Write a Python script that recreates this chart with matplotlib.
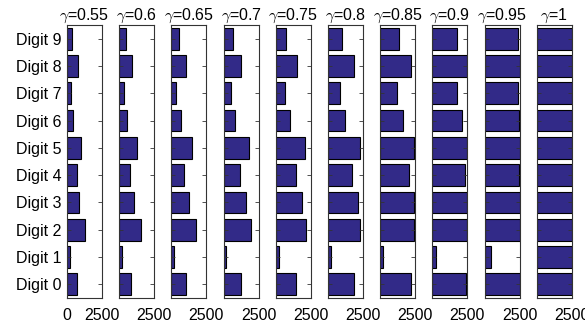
import matplotlib
matplotlib.use('Agg')
import matplotlib.pyplot as plt
import numpy as np

gammas = ['0.55', '0.6', '0.65', '0.7', '0.75', '0.8', '0.85', '0.9', '0.95', '1']
digits = ['Digit 0', 'Digit 1', 'Digit 2', 'Digit 3', 'Digit 4',
          'Digit 5', 'Digit 6', 'Digit 7', 'Digit 8', 'Digit 9']

# counts per digit (0..9) for each gamma
counts_055 = [714, 179, 1301, 842, 714, 1020, 459, 306, 765, 383]
counts_060 = [842, 230, 1556, 1046, 791, 1276, 561, 357, 893, 459]
counts_065 = [1046, 204, 1760, 1224, 918, 1505, 663, 357, 1046, 561]
counts_070 = [1276, 179, 1990, 1582, 1173, 1811, 816, 561, 1276, 663]
counts_075 = [1450, 200, 2175, 1875, 1425, 2050, 1000, 650, 1525, 750]
counts_080 = [1850, 200, 2300, 2125, 1700, 2300, 1200, 875, 1875, 1025]
counts_085 = [2190, 230, 2420, 2420, 2060, 2420, 1650, 1210, 2165, 1340]
counts_090 = [2397, 230, 2474, 2474, 2321, 2474, 2117, 1760, 2450, 1760]
counts_095 = [2500, 450, 2500, 2500, 2425, 2500, 2425, 2350, 2500, 2350]
counts_100 = [2500, 2500, 2500, 2500, 2500, 2500, 2500, 2500, 2500, 2500]

all_counts = [counts_055, counts_060, counts_065, counts_070, counts_075,
              counts_080, counts_085, counts_090, counts_095, counts_100]

plt.rcParams['font.family'] = ['Liberation Sans', 'DejaVu Sans']
plt.rcParams['mathtext.fontset'] = 'cm'

fig = plt.figure(figsize=(5.85, 3.23), dpi=100)

W, H = 585.0, 323.0
ax_w = 35 / W
ax_h = 273 / H
bottom = 25 / H
step = 52.2 / W
left0 = 67 / W

bar_color = '#322a88'
ypos = np.arange(len(digits))

for k in range(len(gammas)):
    ax = fig.add_axes([left0 + k * step, bottom, ax_w, ax_h])
    ax.barh(ypos, all_counts[k], height=0.8, color=bar_color,
            edgecolor='black', linewidth=0.8)
    ax.set_xlim(0, 2500)
    ax.set_ylim(-0.5, 9.5)
    ax.set_xticks([0, 2500])
    ax.set_yticks(ypos)
    if k == 0:
        ax.set_xticklabels(['0', '2500'])
        ax.set_yticklabels(digits)
    else:
        ax.set_xticklabels(['', '2500'])
        ax.set_yticklabels([])
    ax.tick_params(axis='both', direction='in', length=3, width=0.6,
                   labelsize=11.5, left=True, right=True, top=False,
                   bottom=True, colors='#333333', labelcolor='black')
    ax.tick_params(axis='x', pad=7)
    ax.tick_params(axis='y', pad=4)
    for s in ax.spines.values():
        s.set_linewidth(0.8)
        s.set_color('#333333')
    ax.set_title(r'$\gamma$=' + gammas[k], fontsize=11.5, pad=2)

fig.savefig('out.png', dpi=100)
